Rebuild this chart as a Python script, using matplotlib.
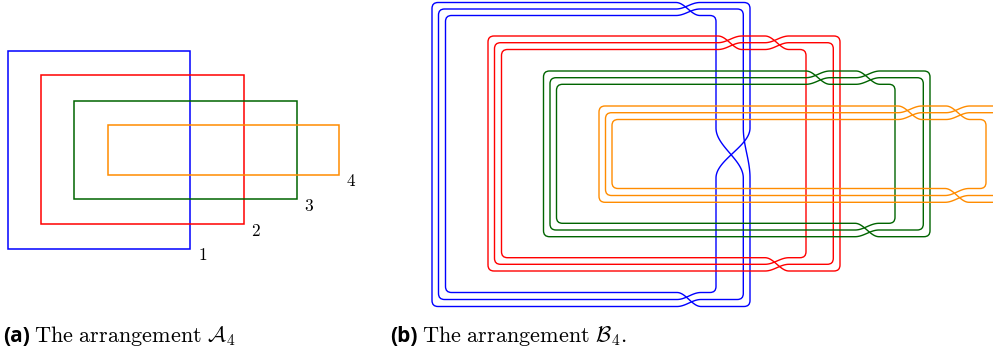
import numpy as np
import matplotlib.pyplot as plt
from matplotlib.path import Path
from matplotlib.patches import PathPatch, Rectangle

plt.rcParams['mathtext.fontset'] = 'cm'

COLORS = ['#0000ff', '#ff0000', '#006400', '#ff8c00']

# (a) one rectangle per curve
A_LEFT = [8, 41, 74, 107.5]
A_TOP = [50.5, 75, 100.5, 125]
A_RIGHT = [190, 243.5, 297, 339]
A_BOTTOM = [248.5, 223.5, 199, 174.5]
A_LABELS = ['1', '2', '3', '4']

# (b) three parallel strands per curve, levels ordered outer, middle, inner
B_LEFT = [[432, 438.5, 445.5], [488, 494.5, 501.5], [543.5, 550, 556.5], [599, 605.5, 612]]
B_TOP = [[2.5, 9, 15.5], [36, 42.7, 49.5], [71, 77.7, 84.3], [106, 112.7, 119.5]]
B_RIGHT = [[750, 743.3, 716], [840, 833.3, 806], [930, 923.3, 895], [1020, 1013, 986]]
B_BOTTOM = [[306.5, 299.5, 292.5], [271, 264.3, 257.7], [236.7, 230, 223.3], [202.3, 195.5, 188.5]]
# twist sites (side, position along that side)
B_TWISTS = [[('top', 688), ('right', 153), ('bottom', 689)],
            [('top', 730), ('top', 777), ('bottom', 777)],
            [('top', 818), ('top', 868), ('bottom', 867)],
            [('top', 910), ('top', 958), ('bottom', 957)]]
TWIST_WIDTH = {'top': 12, 'bottom': 12, 'right': 25, 'left': 12}

# at a twist the outer strand moves inside, the other two move out by one
SHIFT = {0: 2, 1: 0, 2: 1}
ORDER = ['left', 'top', 'right', 'bottom']
CORNER_R = 6


def smooth(t):
    t = np.clip(t, 0, 1)
    return 0.5 - 0.5 * np.cos(np.pi * t)


def cross_of(ci, side):
    return {'left': B_LEFT, 'top': B_TOP, 'right': B_RIGHT, 'bottom': B_BOTTOM}[side][ci]


def events_on(ci, side):
    ev = [p for sd, p in B_TWISTS[ci] if sd == side]
    if side in ('left', 'bottom'):
        return sorted(ev, reverse=True), -1
    return sorted(ev), 1


def trace(ci, k0):
    k = k0
    pieces = []
    corners = []
    while True:
        for i, side in enumerate(ORDER):
            prev_side = ORDER[i - 1]
            next_side = ORDER[(i + 1) % 4]
            ev, d = events_on(ci, side)
            cv = cross_of(ci, side)
            kin = k
            start = cross_of(ci, prev_side)[kin]
            for p in ev:
                k = SHIFT[k]
            end = cross_of(ci, next_side)[k]
            s = np.linspace(start + d * CORNER_R, end - d * CORNER_R, 400)
            c = np.full_like(s, cv[kin], dtype=float)
            kk = kin
            w = TWIST_WIDTH[side]
            for p in ev:
                nk = SHIFT[kk]
                c += (cv[nk] - cv[kk]) * smooth((d * (s - p) + w) / (2 * w))
                kk = nk
            if side in ('top', 'bottom'):
                pts = np.column_stack((s, c))
                corner = (cross_of(ci, next_side)[k], cv[k])
            else:
                pts = np.column_stack((c, s))
                corner = (cv[k], cross_of(ci, next_side)[k])
            pieces.append(pts)
            corners.append(corner)
        if k == k0:
            break
    verts, codes = [], []
    for i, pts in enumerate(pieces):
        if i == 0:
            verts.append(pts[0])
            codes.append(Path.MOVETO)
        verts.extend(pts[1:])
        codes.extend([Path.LINETO] * (len(pts) - 1))
        nxt = pieces[(i + 1) % len(pieces)][0]
        verts.extend([corners[i], nxt])
        codes.extend([Path.CURVE3, Path.CURVE3])
    return Path(verts, codes)


fig = plt.figure(figsize=(9.93, 3.52), dpi=100)
ax = fig.add_axes([0, 0, 1, 1])
ax.set_xlim(0, 993)
ax.set_ylim(352, 0)
ax.axis('off')

# (a)
for i in range(4):
    ax.add_patch(Rectangle((A_LEFT[i], A_TOP[i]), A_RIGHT[i] - A_LEFT[i], A_BOTTOM[i] - A_TOP[i],
                           fill=False, edgecolor=COLORS[i], lw=1.1))
    ax.text(A_RIGHT[i] + 12.5, A_BOTTOM[i] + 7, '$' + A_LABELS[i] + '$', fontsize=12.5,
            ha='center', va='center')

# (b)
for ci in range(4):
    for k0 in range(3):
        ax.add_patch(PathPatch(trace(ci, k0), fill=False, edgecolor=COLORS[ci], lw=1.0))

ax.text(3, 342, '(a)', family='Open Sans', fontweight='bold', fontsize=15, va='baseline')
ax.text(34, 342, r'$\mathrm{The\ arrangement}\ \mathcal{A}_4$', fontsize=16, va='baseline')
ax.text(390, 342, '(b)', family='Open Sans', fontweight='bold', fontsize=15, va='baseline')
ax.text(422, 342, r'$\mathrm{The\ arrangement}\ \mathcal{B}_4.$', fontsize=16, va='baseline')

fig.savefig('out.png', dpi=100)
